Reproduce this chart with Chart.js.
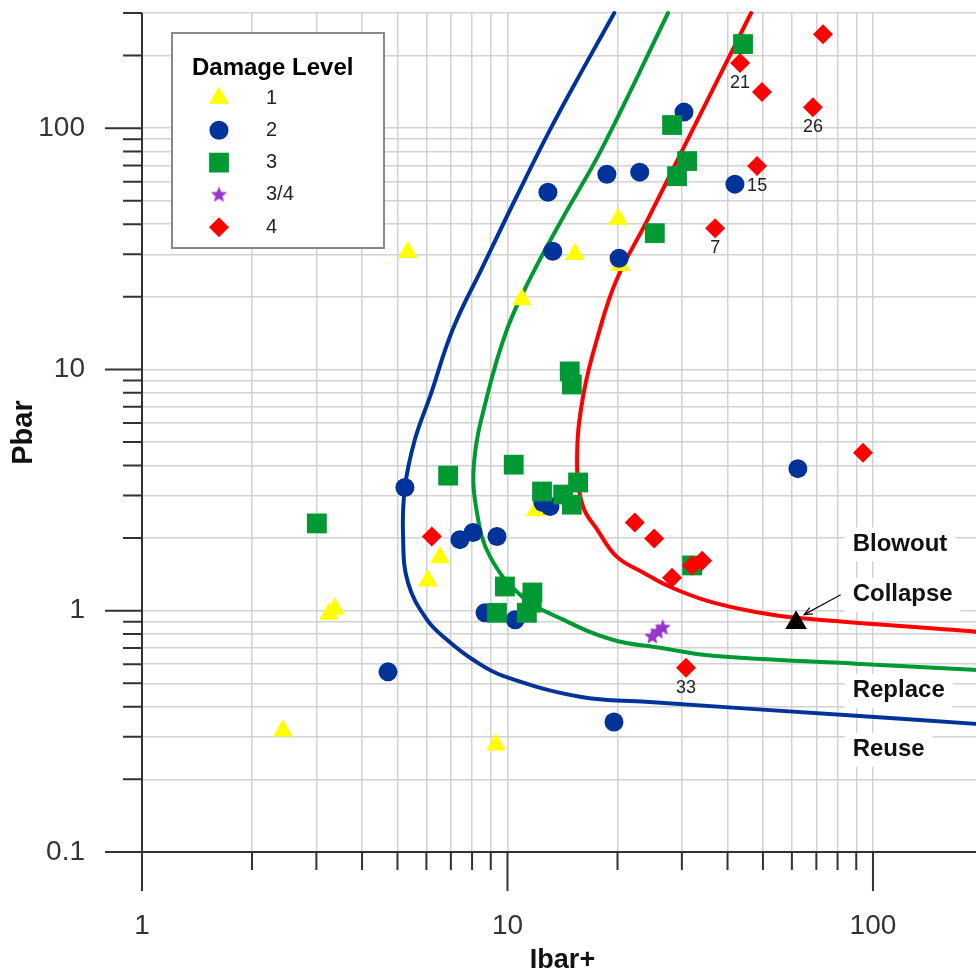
<!DOCTYPE html>
<html>
<head>
<meta charset="utf-8">
<title>Pbar / Ibar+</title>
<script src="https://cdn.jsdelivr.net/npm/chart.js@4.4.0/dist/chart.umd.min.js"></script>
<style>
  html, body { margin: 0; padding: 0; background: #fff; overflow: hidden; }
  canvas { display: block; }
</style>
</head>
<body>
<canvas id="damageChart" width="984" height="974"></canvas>
<script>
// Graduations des axes log
const xTickValues = [1, 10, 100];
const xTickLabels = ['1', '10', '100'];
const yTickValues = [0.1, 1, 10, 100];
const yTickLabels = ['0.1', '1', '10', '100'];

// Courbes limites (Ibar+ / Pbar)
const reuseIbar = [19.6, 16.1, 13.1, 10.6, 8.57, 7.09, 6.14, 5.58, 5.24, 5.18, 5.34, 6.02, 6.83, 8.05, 9.72, 15.8, 23.9, 89.9, 200];
const reusePbar = [300, 176, 99, 52.2, 26.8, 14.7, 7.73, 5.12, 3.24, 2.03, 1.31, 0.918, 0.758, 0.626, 0.537, 0.44, 0.419, 0.367, 0.338];
const replaceIbar = [27.5, 18.1, 14.1, 11.5, 9.98, 8.79, 8.1, 8.25, 8.96, 11.0, 14.2, 19.4, 26.1, 36.5, 89.9, 200];
const replacePbar = [300, 81.8, 41.9, 23.6, 14.7, 7.73, 4.11, 2.55, 1.675, 1.14, 0.918, 0.758, 0.702, 0.65, 0.603, 0.567];
const blowoutIbar = [46.4, 30.2, 24.2, 19.9, 17.9, 16.1, 15.5, 16.1, 17.6, 19.9, 23.5, 27.8, 35.8, 49.1, 61.5, 200];
const blowoutPbar = [300, 81.8, 41.9, 23.6, 14.7, 7.73, 4.11, 2.70, 2.17, 1.675, 1.44, 1.257, 1.09, 0.98, 0.935, 0.814];

// Essais par niveau d'endommagement
const level1Ibar = [5.34, 10.96, 15.3, 20.1, 20.4, 6.54, 6.06, 3.25, 3.37, 2.43, 9.3, 11.97];
const level1Pbar = [30.6, 19.5, 30.0, 41.9, 27.0, 1.66, 1.33, 0.97, 1.02, 0.318, 0.278, 2.60];
const level2Ibar = [12.9, 18.7, 23.0, 30.4, 41.9, 13.3, 20.2, 5.24, 62.3, 7.41, 8.05, 9.36, 12.5, 13.07, 8.68, 10.5, 4.71, 19.56];
const level2Pbar = [54.2, 64.4, 65.7, 116.5, 58.6, 30.9, 28.9, 3.24, 3.88, 1.97, 2.11, 2.03, 2.81, 2.70, 0.98, 0.918, 0.558, 0.346];
const level3Ibar = [44.1, 28.2, 31.0, 29.1, 25.3, 14.8, 15.0, 6.88, 10.4, 12.43, 14.2, 15.6, 15.0, 3.01, 9.84, 9.36, 11.3, 11.7, 11.65, 32.0];
const level3Pbar = [223, 103, 73.0, 63.2, 36.7, 9.81, 8.66, 3.63, 4.03, 3.12, 3.03, 3.40, 2.75, 2.30, 1.26, 0.98, 0.98, 1.19, 1.08, 1.54];
const level34Ibar = [24.9, 25.8, 26.6];
const level34Pbar = [0.78, 0.818, 0.85];
const level4Ibar = [73.0, 43.3, 49.7, 68.5, 48.2, 37.0, 93.9, 6.21, 22.3, 25.2, 28.2, 32.0, 34.1, 30.8];
const level4Pbar = [245, 186, 141, 122, 69.6, 38.5, 4.52, 2.03, 2.32, 1.99, 1.37, 1.54, 1.61, 0.58];
const level4Tags = ['', '21', '', '26', '15', '7', '', '', '', '', '', '', '', '33'];

// Point d'effondrement
const collapseIbar = [61.6];
const collapsePbar = [0.892];

// Libellés des courbes
const curveNames = ['Blowout', 'Collapse', 'Replace', 'Reuse'];
const curveNameIbar = [88, 88, 88, 88];
const curveNamePbar = [1.88, 1.165, 0.466, 0.265];

const legendTitle = 'Damage Level';
const legendLabels = ['1', '2', '3', '3/4', '4'];

const FONT = '"Liberation Sans", Arial, sans-serif';
Chart.defaults.font.family = FONT;

const zip = (xs, ys) => xs.map((v, i) => ({ x: v, y: ys[i] }));

function logTicks(min, max) {
  const vals = [];
  for (let e = Math.floor(Math.log10(min)); Math.pow(10, e) <= max; e++) {
    for (let k = 1; k <= 9; k++) {
      const v = +(k * Math.pow(10, e)).toPrecision(6);
      if (v >= min && v <= max) vals.push(v);
    }
  }
  return vals;
}

const isMajor = v => Math.abs(Math.log10(v) - Math.round(Math.log10(v))) < 1e-6;

// Etoile pleine pour le niveau 3/4
function makeStar(size, color) {
  const c = document.createElement('canvas');
  c.width = c.height = size;
  const g = c.getContext('2d');
  const r = size / 2, ri = r * 0.45;
  g.beginPath();
  for (let i = 0; i < 10; i++) {
    const rad = i % 2 === 0 ? r : ri;
    const ang = -Math.PI / 2 + i * Math.PI / 5;
    g.lineTo(r + rad * Math.cos(ang), r + rad * Math.sin(ang));
  }
  g.closePath();
  g.fillStyle = color;
  g.fill();
  return c;
}
const starImg = makeStar(17, '#9933cc');

function curve(xs, ys, color) {
  return {
    data: zip(xs, ys),
    showLine: true,
    borderColor: color,
    borderWidth: 4,
    borderCapStyle: 'round',
    borderJoinStyle: 'round',
    pointRadius: 0,
    tension: 0.4,
    fill: false,
    clip: false,
    order: 10
  };
}

function marks(xs, ys, color, style, radius, order) {
  return {
    data: zip(xs, ys),
    backgroundColor: color,
    borderColor: color,
    borderWidth: 0,
    pointStyle: style,
    pointRadius: radius,
    order: order
  };
}

const legendMarks = [
  { color: '#ffff00', style: 'triangle', radius: 11.5 },
  { color: '#003399', style: 'circle', radius: 9.5 },
  { color: '#009933', style: 'rect', radius: 14 },
  { color: '#9933cc', style: starImg, radius: 8 },
  { color: '#ff0000', style: 'rectRot', radius: 10 }
];

const datasets = [
  curve(reuseIbar, reusePbar, '#003399'),
  curve(replaceIbar, replacePbar, '#009933'),
  curve(blowoutIbar, blowoutPbar, '#ff0000'),
  marks(level1Ibar, level1Pbar, '#ffff00', 'triangle', 11.5, 6),
  marks(level2Ibar, level2Pbar, '#003399', 'circle', 9.5, 5),
  marks(level3Ibar, level3Pbar, '#009933', 'rect', 14, 4),
  marks(level34Ibar, level34Pbar, '#9933cc', starImg, 8, 3),
  marks(level4Ibar, level4Pbar, '#ff0000', 'rectRot', 10, 2),
  marks(collapseIbar, collapsePbar, '#000000', 'triangle', 12.5, 1)
];
const LEVEL4 = 7, COLLAPSE = 8;

// Habillage : libellés, axes, flèche, légende
const decorPlugin = {
  id: 'decor',
  beforeDatasetsDraw(chart) {
    const { ctx, scales: { x, y } } = chart;
    ctx.save();
    ctx.font = 'bold 24px ' + FONT;
    ctx.textBaseline = 'middle';
    curveNames.forEach((name, i) => {
      const px = x.getPixelForValue(curveNameIbar[i]);
      const py = y.getPixelForValue(curveNamePbar[i]);
      const w = ctx.measureText(name).width;
      ctx.fillStyle = '#fff';
      ctx.fillRect(px - 8, py - 17, w + 16, 34);
      ctx.fillStyle = '#111';
      ctx.fillText(name, px, py);
    });
    ctx.restore();
  },
  afterDatasetsDraw(chart) {
    const { ctx, chartArea: a, scales: { x, y } } = chart;
    ctx.save();

    // axes et graduations
    ctx.strokeStyle = '#333';
    ctx.lineWidth = 2;
    ctx.beginPath();
    ctx.moveTo(a.left, a.top);
    ctx.lineTo(a.left, a.bottom + 39);
    ctx.moveTo(a.left - 37, a.bottom);
    ctx.lineTo(a.right, a.bottom);
    y.ticks.forEach(t => {
      const p = y.getPixelForValue(t.value);
      ctx.moveTo(a.left - (isMajor(t.value) ? 37 : 19), p);
      ctx.lineTo(a.left, p);
    });
    x.ticks.forEach(t => {
      const p = x.getPixelForValue(t.value);
      ctx.moveTo(p, a.bottom);
      ctx.lineTo(p, a.bottom + (isMajor(t.value) ? 39 : 18));
    });
    ctx.stroke();

    // numéros d'essais
    ctx.font = '18px ' + FONT;
    ctx.fillStyle = '#222';
    ctx.textAlign = 'center';
    ctx.textBaseline = 'middle';
    chart.getDatasetMeta(LEVEL4).data.forEach((pt, i) => {
      if (level4Tags[i]) ctx.fillText(level4Tags[i], pt.x, pt.y + 20);
    });

    // flèche vers le point d'effondrement
    const m = chart.getDatasetMeta(COLLAPSE).data[0];
    const tx = x.getPixelForValue(curveNameIbar[1]) - 12;
    const ty = y.getPixelForValue(curveNamePbar[1]);
    const hx = m.x + 8, hy = m.y - 8;
    const ang = Math.atan2(hy - ty, hx - tx);
    ctx.strokeStyle = '#111';
    ctx.lineWidth = 1.3;
    ctx.beginPath();
    ctx.moveTo(tx, ty);
    ctx.lineTo(hx, hy);
    ctx.moveTo(hx - 9 * Math.cos(ang - 0.4), hy - 9 * Math.sin(ang - 0.4));
    ctx.lineTo(hx, hy);
    ctx.lineTo(hx - 9 * Math.cos(ang + 0.4), hy - 9 * Math.sin(ang + 0.4));
    ctx.stroke();

    // légende
    const lx = a.left + 30, ly = a.top + 20;
    ctx.fillStyle = '#fff';
    ctx.fillRect(lx, ly, 212, 215);
    ctx.strokeStyle = '#888';
    ctx.lineWidth = 2;
    ctx.strokeRect(lx, ly, 212, 215);
    ctx.textAlign = 'left';
    ctx.fillStyle = '#000';
    ctx.font = 'bold 24px ' + FONT;
    ctx.fillText(legendTitle, lx + 20, ly + 35);
    ctx.font = '20px ' + FONT;
    legendLabels.forEach((lab, i) => {
      const ry = ly + 65 + i * 32.3;
      const mk = legendMarks[i];
      ctx.fillStyle = mk.color;
      Chart.helpers.drawPoint(ctx, { pointStyle: mk.style, rotation: 0, radius: mk.radius, borderWidth: 0 }, lx + 47, ry);
      ctx.fillStyle = '#222';
      ctx.fillText(lab, lx + 94, ry);
    });
    ctx.restore();
  }
};

const gridStyle = { color: '#d2d2d2', lineWidth: 1.5, drawTicks: false };
const tickFont = { family: FONT, size: 28 };

new Chart(document.getElementById('damageChart').getContext('2d'), {
  type: 'scatter',
  data: { datasets: datasets },
  options: {
    responsive: false,
    animation: false,
    events: [],
    layout: { autoPadding: false, padding: { top: 13, right: 1, left: 0, bottom: 0 } },
    plugins: {
      legend: { display: false },
      tooltip: { enabled: false }
    },
    scales: {
      x: {
        type: 'logarithmic',
        position: 'bottom',
        min: 1,
        max: 200,
        grid: gridStyle,
        border: { display: false },
        ticks: {
          font: tickFont,
          color: '#333',
          padding: 57,
          autoSkip: false,
          maxRotation: 0,
          callback: v => {
            const i = xTickValues.indexOf(v);
            return i >= 0 ? xTickLabels[i] : '';
          }
        },
        title: {
          display: true,
          text: 'Ibar+',
          color: '#111',
          font: { family: FONT, size: 27, weight: 'bold', lineHeight: 1 },
          padding: { top: 0, bottom: 0 }
        },
        afterBuildTicks: s => { s.ticks = logTicks(s.min, s.max).map(v => ({ value: v })); },
        afterFit: s => { s.height = 122; s.paddingLeft = 0; s.paddingRight = 0; }
      },
      y: {
        type: 'logarithmic',
        position: 'left',
        min: 0.1,
        max: 300,
        grid: gridStyle,
        border: { display: false },
        ticks: {
          font: tickFont,
          color: '#333',
          padding: 57,
          autoSkip: false,
          callback: v => {
            const i = yTickValues.indexOf(v);
            return i >= 0 ? yTickLabels[i] : '';
          }
        },
        title: {
          display: true,
          text: 'Pbar',
          color: '#111',
          font: { family: FONT, size: 29, weight: 'bold', lineHeight: 1 },
          padding: { top: 9, bottom: 0 }
        },
        afterBuildTicks: s => { s.ticks = logTicks(s.min, s.max).map(v => ({ value: v })); },
        afterFit: s => { s.width = 142; s.paddingTop = 0; s.paddingBottom = 0; }
      }
    }
  },
  plugins: [decorPlugin]
});
</script>
</body>
</html>
